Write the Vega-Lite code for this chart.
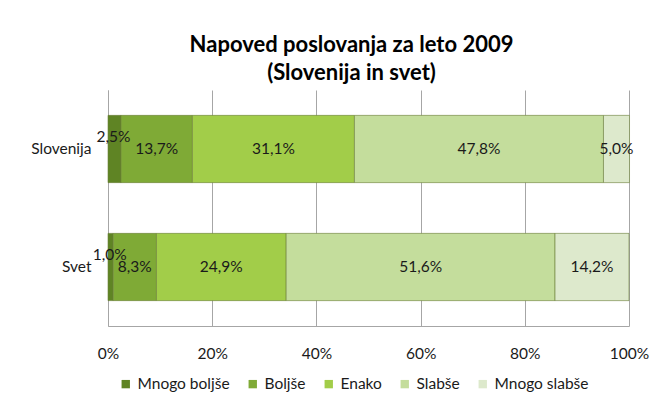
{
  "$schema": "https://vega.github.io/schema/vega-lite/v6.json",
  "width": 521,
  "height": 236,
  "autosize": "none",
  "padding": {"left": 108, "top": 90, "right": 21, "bottom": 81},
  "background": "white",
  "config": {
    "locale": {"number": {"decimal": ",", "thousands": ".", "grouping": [3], "currency": ["", " €"]}},
    "font": "Lato",
    "view": {"stroke": null}
  },
  "title": {
    "text": ["Napoved poslovanja za leto 2009", "(Slovenija in svet)"],
    "font": "Lato",
    "fontSize": 22,
    "fontWeight": "bold",
    "color": "#000000",
    "anchor": "middle",
    "dx": -17,
    "offset": 5,
    "lineHeight": 28
  },
  "data": {
    "values": [
      {"region": "Slovenija", "category": "Mnogo boljše", "order": 1, "value": 0.025},
      {"region": "Slovenija", "category": "Boljše", "order": 2, "value": 0.137},
      {"region": "Slovenija", "category": "Enako", "order": 3, "value": 0.311},
      {"region": "Slovenija", "category": "Slabše", "order": 4, "value": 0.478},
      {"region": "Slovenija", "category": "Mnogo slabše", "order": 5, "value": 0.05},
      {"region": "Svet", "category": "Mnogo boljše", "order": 1, "value": 0.01},
      {"region": "Svet", "category": "Boljše", "order": 2, "value": 0.083},
      {"region": "Svet", "category": "Enako", "order": 3, "value": 0.249},
      {"region": "Svet", "category": "Slabše", "order": 4, "value": 0.516},
      {"region": "Svet", "category": "Mnogo slabše", "order": 5, "value": 0.142}
    ]
  },
  "transform": [
    {"stack": "value", "groupby": ["region"], "sort": [{"field": "order"}], "as": ["v0", "v1"]},
    {"calculate": "(datum.v0 + datum.v1) / 2", "as": "mid"}
  ],
  "encoding": {
    "y": {
      "field": "region",
      "type": "nominal",
      "sort": ["Slovenija", "Svet"],
      "scale": {"paddingInner": 0.43, "paddingOuter": 0.215},
      "axis": {
        "title": null,
        "ticks": false,
        "domain": true,
        "domainColor": "#a6a6a6",
        "labelPadding": 17,
        "labelFontSize": 15.5,
        "labelColor": "#1a1a1a",
        "labelFont": "Lato"
      }
    }
  },
  "layer": [
    {
      "mark": {"type": "bar", "stroke": "#6b7f3a", "strokeWidth": 1, "strokeOpacity": 0.6},
      "encoding": {
        "x": {
          "field": "v0",
          "type": "quantitative",
          "scale": {"domain": [0, 1], "nice": false},
          "axis": {
            "title": null,
            "format": "%",
            "values": [0, 0.2, 0.4, 0.6, 0.8, 1],
            "grid": true,
            "gridColor": "#a6a6a6",
            "domain": true,
            "domainColor": "#a6a6a6",
            "ticks": false,
            "labelFlush": false,
            "labelPadding": 20,
            "labelFontSize": 15.5,
            "labelColor": "#1a1a1a",
            "labelFont": "Lato"
          }
        },
        "x2": {"field": "v1"},
        "color": {
          "field": "category",
          "type": "nominal",
          "scale": {
            "domain": ["Mnogo boljše", "Boljše", "Enako", "Slabše", "Mnogo slabše"],
            "range": ["#5f8424", "#7faa36", "#a2cd49", "#c4dd9c", "#dde9cc"]
          },
          "legend": {
            "title": null,
            "orient": "none",
            "direction": "horizontal",
            "legendX": 10,
            "legendY": 286,
            "symbolType": "square",
            "symbolSize": 70,
            "symbolStrokeWidth": 0,
            "labelFontSize": 15.5,
            "labelColor": "#1a1a1a",
            "labelFont": "Lato",
            "columnPadding": 15,
            "labelOffset": 4
          }
        },
        "order": {"field": "order", "type": "quantitative"}
      }
    },
    {
      "transform": [{"filter": "datum.value >= 0.04"}],
      "mark": {"type": "text", "fontSize": 15.5, "color": "#1a1a1a", "font": "Lato"},
      "encoding": {
        "x": {"field": "mid", "type": "quantitative"},
        "text": {"field": "value", "type": "quantitative", "format": ".1%"}
      }
    },
    {
      "transform": [{"filter": "datum.value < 0.04"}],
      "mark": {"type": "text", "fontSize": 15.5, "color": "#1a1a1a", "font": "Lato", "dy": -12, "dx": -1},
      "encoding": {
        "x": {"field": "mid", "type": "quantitative"},
        "text": {"field": "value", "type": "quantitative", "format": ".1%"}
      }
    }
  ]
}
